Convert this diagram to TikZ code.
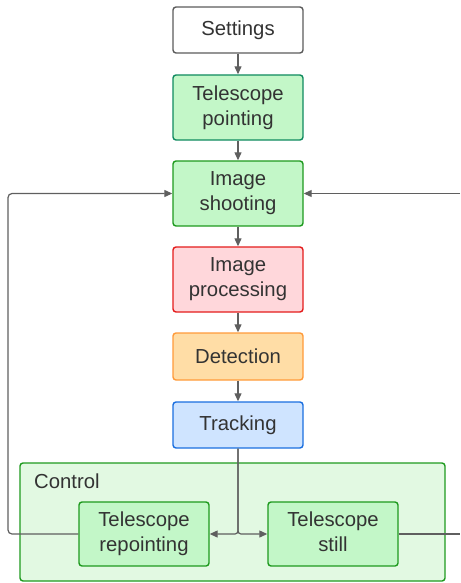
\documentclass[tikz,border=0pt]{standalone}
\usepackage{fontspec}
\setmainfont{Liberation Sans}
\usetikzlibrary{arrows.meta}
\definecolor{txt}{HTML}{333333}
\definecolor{conn}{HTML}{5F5F5F}
\definecolor{grayb}{HTML}{5C5C5C}
\definecolor{gfill}{HTML}{C3F7C8}
\definecolor{tealb}{HTML}{0F8A5F}
\definecolor{greenb}{HTML}{1E9A1E}
\definecolor{rfill}{HTML}{FFD7DB}
\definecolor{redb}{HTML}{E41C1C}
\definecolor{ofill}{HTML}{FFDDA6}
\definecolor{orangeb}{HTML}{FF9A3A}
\definecolor{bfill}{HTML}{CFE4FF}
\definecolor{blueb}{HTML}{1A6FE0}
\definecolor{cfill}{HTML}{E2F9E2}
\tikzset{
  box/.style={draw, rectangle, rounded corners=3pt, line width=1.4pt, minimum width=130pt, align=center, text=txt, font=\fontsize{20.3}{25}\selectfont, inner sep=0pt},
  conn/.style={draw=conn, line width=1.2pt, -{Triangle[length=8pt,width=7pt]}},
  plain/.style={draw=conn, line width=1.2pt}
}
\begin{document}
\begin{tikzpicture}[x=1pt,y=-1pt]
\useasboundingbox (0,0) rectangle (460,583);
\node[draw=greenb, fill=cfill, rounded corners=3pt, line width=1.4pt, minimum width=425pt, minimum height=118pt, inner sep=0pt] (control) at (232.5,522) {};
\node[anchor=west, text=txt, font=\fontsize{20.3}{25}\selectfont, inner sep=0pt] (clabel) at (34,481) {Control};
\node[box, draw=grayb, fill=white, minimum height=46pt] (settings) at (238,30) {Settings};
\node[box, draw=tealb, fill=gfill, minimum height=65pt] (pointing) at (238,107.5) {Telescope\\pointing};
\node[box, draw=greenb, fill=gfill, minimum height=65pt] (shooting) at (238,193.5) {Image\\shooting};
\node[box, draw=redb, fill=rfill, minimum height=65pt] (processing) at (238,279.5) {Image\\processing};
\node[box, draw=orangeb, fill=ofill, minimum height=47pt] (detection) at (238,356.5) {Detection};
\node[box, draw=blueb, fill=bfill, minimum height=46pt] (tracking) at (238,425) {Tracking};
\node[box, draw=greenb, fill=gfill, minimum height=64pt] (repointing) at (144,534) {Telescope\\repointing};
\node[box, draw=greenb, fill=gfill, minimum height=64pt] (still) at (333,534) {Telescope\\still\vphantom{g}};
\coordinate (eR) at (460,534);
\coordinate (eT) at (460,193.5);
\coordinate (lB) at (8,534);
\coordinate (lT) at (8,193.5);
\draw[conn] (settings) -- (pointing);
\draw[conn] (pointing) -- (shooting);
\draw[conn] (shooting) -- (processing);
\draw[conn] (processing) -- (detection);
\draw[conn] (detection) -- (tracking);
\draw[conn, rounded corners=3pt] (tracking.south) |- (repointing.east);
\draw[conn, rounded corners=3pt] (tracking.south) |- (still.west);
\draw[conn, rounded corners=4pt] (repointing.west) -- (lB) -- (lT) -- (shooting.west);
\draw[plain] (still.east) -- (eR);
\draw[conn] (eT) -- (shooting.east);
\end{tikzpicture}
\end{document}
